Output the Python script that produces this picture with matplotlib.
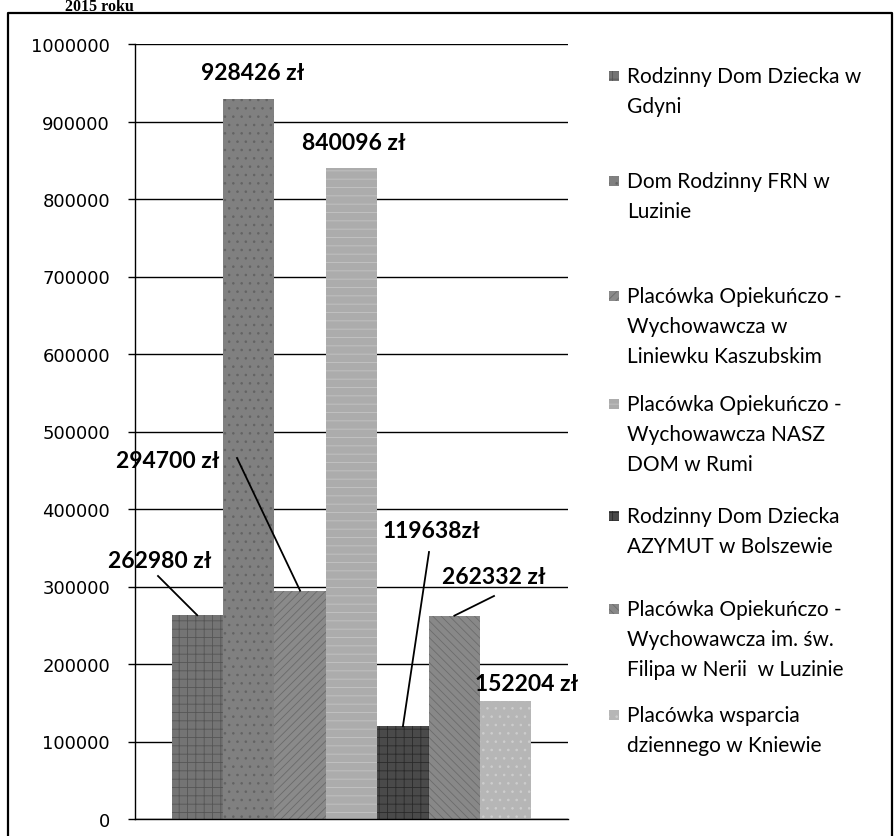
import matplotlib
matplotlib.use("Agg")
import matplotlib.pyplot as plt
from matplotlib.patches import Rectangle
from matplotlib.lines import Line2D

# ---- data ----
categories = [
    "Rodzinny Dom Dziecka w\nGdyni",
    "Dom Rodzinny FRN w\nLuzinie",
    "Placówka Opiekuńczo -\nWychowawcza w\nLiniewku Kaszubskim",
    "Placówka Opiekuńczo -\nWychowawcza NASZ\nDOM w Rumi",
    "Rodzinny Dom Dziecka\nAZYMUT w Bolszewie",
    "Placówka Opiekuńczo -\nWychowawcza im. św.\nFilipa w Nerii  w Luzinie",
    "Placówka wsparcia\ndziennego w Kniewie",
]
values = [262980, 928426, 294700, 840096, 119638, 262332, 152204]
value_labels = ["262980 zł", "928426 zł", "294700 zł", "840096 zł",
                "119638zł", "262332 zł", "152204 zł"]
yticks = [0, 100000, 200000, 300000, 400000, 500000, 600000, 700000,
          800000, 900000, 1000000]
title_text = "2015 roku"

# ---- style ----
colors = ["#747474", "#808080", "#8a8a8a", "#acacac", "#4a4a4a", "#888888", "#b6b6b6"]
hatches = ["++", "..", "////", "--", "++", "\\\\\\\\", ".."]
hatch_cols = ["#555555", "#636363", "#6a6a6a", "#c4c4c4", "#2a2a2a", "#6c6c6c", "#cecece"]

W, H = 894, 837
fig = plt.figure(figsize=(W / 100, H / 100), dpi=100)
fig.patch.set_facecolor("white")

def fx(px):
    return px / W

def fy(py):
    return 1 - py / H

ax = fig.add_axes([fx(135), fy(820), fx(568) - fx(135), fy(45) - fy(820)])
ax.set_ylim(0, 1000000)
ax.set_xlim(3 - 4.21, 3 + 4.21)

xs = list(range(len(values)))
plt.rcParams['hatch.linewidth'] = 0.6
for i, (x, v) in enumerate(zip(xs, values)):
    ax.bar(x, v, width=1.0, color=colors[i], edgecolor=hatch_cols[i],
           hatch=hatches[i], linewidth=0, zorder=2)

ax.set_yticks(yticks)
ax.set_yticklabels([str(t) for t in yticks], fontsize=13, family="DejaVu Sans")
ax.tick_params(axis="y", direction="out", length=5, width=1, pad=13, colors="black")
ax.tick_params(axis="x", bottom=False, labelbottom=False)
ax.yaxis.grid(True, color="black", linewidth=1.0, zorder=1)
ax.set_axisbelow(True)
for s in ["top", "right"]:
    ax.spines[s].set_visible(False)
ax.spines["left"].set_linewidth(1.0)
ax.spines["bottom"].set_linewidth(1.0)
ax.set_facecolor("none")

# ---- data labels (text positions in pixels, pointing to bar tops) ----
label_px = [(160, 562), (253, 73), (168, 462), (354, 143),
            (431, 532), (494, 578), (527, 685)]
leader = [(158, 577), None, (237, 459), None, (429, 553), (494, 597), None]
for i, (x, v) in enumerate(zip(xs, values)):
    tx, ty = label_px[i]
    fig.text(fx(tx), fy(ty), value_labels[i], fontsize=16.5, fontweight="bold",
             family="Lato", ha="center", va="center", zorder=5)
    start = leader[i]
    if start is not None:
        disp = ax.transData.transform((x, v))
        fig.add_artist(Line2D([fx(start[0]), disp[0] / W], [fy(start[1]), disp[1] / H],
                              color="black", linewidth=1.3, zorder=6))

# ---- legend (manual) ----
leg_y = [77, 182, 297, 405, 517, 610, 716]
line_gap = 30
for i, cat in enumerate(categories):
    y0 = leg_y[i]
    fig.add_artist(Rectangle((fx(609), fy(y0 + 5)), fx(10), 10 / H,
                             facecolor=colors[i], edgecolor=hatch_cols[i],
                             hatch=hatches[i], linewidth=0))
    for k, line in enumerate(cat.split("\n")):
        fig.text(fx(627), fy(y0 + k * line_gap), line, fontsize=15, family="Lato",
                 ha="left", va="center")

# ---- title (above the frame) and outer frame ----
fig.text(fx(65), fy(11), title_text, fontsize=11.5, fontweight="bold",
         family="Liberation Serif", ha="left", va="baseline")
fig.add_artist(Line2D([fx(8), fx(8), fx(892), fx(892)],
                      [fy(837), fy(14), fy(14), fy(837)],
                      color="black", linewidth=1.6))

fig.savefig("out.png", dpi=100)
